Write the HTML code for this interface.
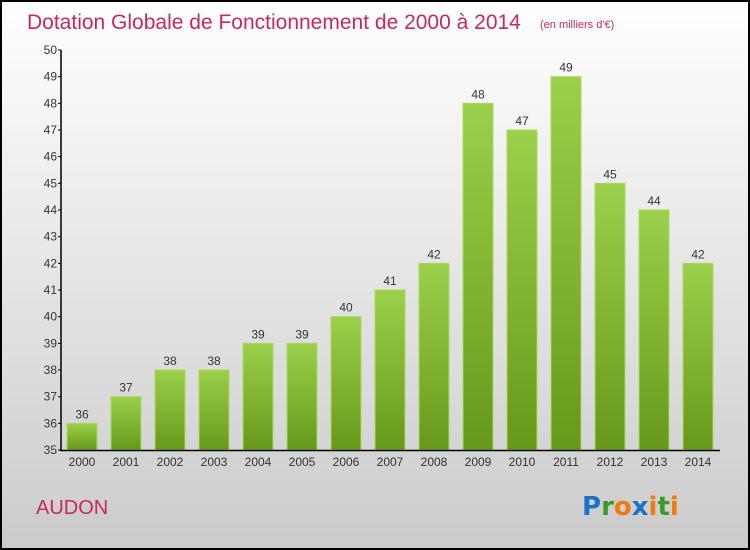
<!DOCTYPE html>
<html><head><meta charset="utf-8"><style>
body{margin:0;width:750px;height:550px;overflow:hidden}
svg{display:block;font-family:"Liberation Sans",sans-serif}
</style></head><body>
<svg width="750" height="550">
<defs>
<linearGradient id="bg" x1="0" y1="0" x2="0" y2="1"><stop offset="0" stop-color="#ffffff"/><stop offset="1" stop-color="#cbcbcb"/></linearGradient>
<linearGradient id="bar" x1="0" y1="0" x2="0" y2="1"><stop offset="0" stop-color="#9bd04a"/><stop offset="1" stop-color="#66991a"/></linearGradient>
</defs>
<rect x="1" y="1" width="748" height="548" fill="url(#bg)" stroke="#000" stroke-width="2"/>
<text x="27" y="29" font-size="21" fill="#c8285e">Dotation Globale de Fonctionnement de 2000 à 2014</text>
<text x="540" y="28" font-size="11" fill="#c8285e">(en milliers d'€)</text>
<g id="bars"></g>
<g id="axes"></g>
<text x="36" y="514" font-size="20" fill="#c8285e">AUDON</text>
<g font-size="26" font-weight="bold" font-family="'DejaVu Sans',sans-serif">
<text x="582" y="515"><tspan fill="#1a73c8">P</tspan><tspan fill="#3a9a2a">r</tspan><tspan fill="#f07a10">o</tspan><tspan fill="#1a73c8">x</tspan><tspan fill="#f07a10">i</tspan><tspan fill="#3a9a2a">t</tspan><tspan fill="#f07a10">i</tspan></text>
</g>
</svg>
<script>
const years=["2000","2001","2002","2003","2004","2005","2006","2007","2008","2009","2010","2011","2012","2013","2014"];
const values=[36,37,38,38,39,39,40,41,42,48,47,49,45,44,42];
const yTicks=[35,36,37,38,39,40,41,42,43,44,45,46,47,48,49,50];
const NS="http://www.w3.org/2000/svg";
const y=v=>450-(v-35)*400/15;
const x=i=>82+i*44;
function mk(t,a,p){const e=document.createElementNS(NS,t);for(const k in a)e.setAttribute(k,a[k]);p.appendChild(e);return e;}
const bars=document.getElementById('bars'),axes=document.getElementById('axes');
values.forEach((v,i)=>{
 const r=mk('rect',{x:x(i)-15,y:y(v),width:30,height:450-y(v),fill:'url(#bar)',stroke:'#a8dc5a','stroke-width':1},bars);
 
 
 const t=mk('text',{x:x(i),y:y(v)-5,'font-size':12,fill:'#333','text-anchor':'middle'},bars);t.textContent=v;
 
 
 const l=mk('text',{x:x(i),y:466,'font-size':12,fill:'#333','text-anchor':'middle'},axes);l.textContent=years[i];
 
 
});
const ya=mk('line',{x1:61,y1:50,x2:61,y2:451,stroke:'#000','stroke-width':1.5},axes);


const xa=mk('line',{x1:60,y1:450.5,x2:720,y2:450.5,stroke:'#000','stroke-width':1.5},axes);


yTicks.forEach(v=>{
 mk('line',{x1:58,y1:y(v),x2:61,y2:y(v),stroke:'#000'},axes);
 const t=mk('text',{x:57,y:y(v)+4,'font-size':12,fill:'#333','text-anchor':'end'},axes);t.textContent=v;
 
 
});
</script>
</body></html>
